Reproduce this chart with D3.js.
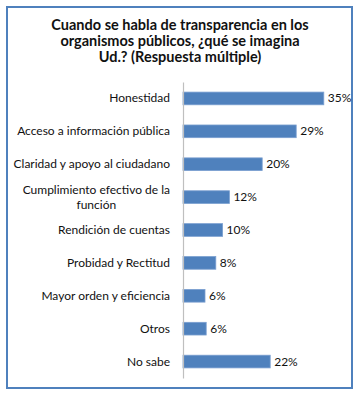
<!DOCTYPE html>
<html>
<head>
<meta charset="utf-8">
<script src="https://cdn.jsdelivr.net/npm/d3@7"></script>
<style>
  html, body { margin: 0; padding: 0; background: #fff; }
  svg { display: block; }
  text { font-family: Lato, "Open Sans", sans-serif; fill: #111; }
</style>
</head>
<body>
<script>
const titleLines = ["Cuando se habla de transparencia en los", "organismos públicos, ¿qué se imagina", "Ud.? (Respuesta múltiple)"];
const categories = [
  ["Honestidad"],
  ["Acceso a información pública"],
  ["Claridad y apoyo al ciudadano"],
  ["Cumplimiento efectivo de la", "función"],
  ["Rendición de cuentas"],
  ["Probidad y Rectitud"],
  ["Mayor orden y eficiencia"],
  ["Otros"],
  ["No sabe"]
];
const values = [35.2, 28.3, 19.8, 11.6, 9.9, 8.2, 5.5, 5.8, 21.8];
const valueLabels = ["35%", "29%", "20%", "12%", "10%", "8%", "6%", "6%", "22%"];

const W = 359, H = 397;
const svg = d3.select("body").append("svg").attr("width", W).attr("height", H);

svg.append("rect").attr("x", 7).attr("y", 7).attr("width", 345).attr("height", 381)
  .attr("fill", "#fff").attr("stroke", "#4f81bd").attr("stroke-width", 2);

const title = svg.append("text").attr("text-anchor", "middle")
  .attr("font-weight", "bold").attr("font-size", 14.5);
titleLines.forEach((t, i) => {
  title.append("tspan").attr("x", 180).attr("y", 30 + i * 16).text(t);
});

const idx = categories.map((d, i) => i);
const y = d3.scaleBand().domain(idx).range([82, 378]).paddingInner(0.614).paddingOuter(0.307);
const x = d3.scaleLinear().domain([0, 40]).range([183, 343]);

svg.selectAll("rect.bar").data(values).join("rect").attr("class", "bar")
  .attr("x", x(0)).attr("y", (d, i) => y(i))
  .attr("width", d => x(d) - x(0)).attr("height", y.bandwidth())
  .attr("fill", "#4f81bd").attr("stroke", "#7a9fd0").attr("stroke-width", 0.8);

const axis = svg.append("g").attr("transform", `translate(${x(0)},0)`)
  .call(d3.axisLeft(y).tickSize(0).tickFormat(""));
axis.select(".domain").attr("stroke", "#bfbfbf").attr("stroke-width", 1.2);

const labelRight = 170;
categories.forEach((lines, i) => {
  const cy = y(i) + y.bandwidth() / 2;
  const lh = 15;
  const g = svg.append("g");
  const texts = lines.map((ln, j) => g.append("text").attr("font-size", 12)
      .attr("y", cy + 4 + (j - (lines.length - 1) / 2) * lh).text(ln));
  const maxW = d3.max(texts, t => t.node().getComputedTextLength());
  texts.forEach(t => t.attr("text-anchor", "middle").attr("x", labelRight - maxW / 2));
});

svg.selectAll("text.val").data(values).join("text").attr("class", "val")
  .attr("x", d => x(d) + 4).attr("y", (d, i) => y(i) + y.bandwidth() / 2 + 4)
  .attr("font-size", 12).text((d, i) => valueLabels[i]);
</script>
</body>
</html>
